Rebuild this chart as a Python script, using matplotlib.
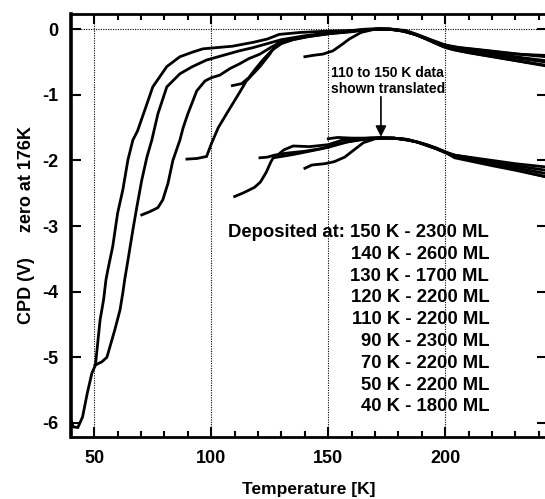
import matplotlib
matplotlib.use("Agg")
import matplotlib.pyplot as plt
from matplotlib.ticker import MultipleLocator, FixedLocator

plt.rcParams['font.family'] = ['Liberation Sans', 'DejaVu Sans']
plt.rcParams['font.weight'] = 'bold'
plt.rcParams['axes.unicode_minus'] = False

# CPD vs temperature, one curve per deposition temperature (zeroed at 176 K)
t40 = [40, 41, 43, 45, 47, 49, 50.5, 52.5, 54, 55, 55.8, 57.9, 60, 62.2, 64.4, 66.5, 68.5,
       72.5, 75, 81, 86.6, 92, 96.4, 109, 118, 124, 129, 138, 150, 160, 166, 172, 177,
       183, 188, 193, 200, 206, 214, 224, 234, 243]
v40 = [-5.95, -6.06, -6.07, -5.91, -5.55, -5.24, -5.12, -4.43, -4.12, -3.82, -3.67, -3.31,
       -2.80, -2.45, -1.99, -1.69, -1.55, -1.14, -0.88, -0.57, -0.42, -0.35, -0.30, -0.26,
       -0.20, -0.15, -0.08, -0.05, -0.03, -0.02, 0.0, 0.01, 0.0, -0.02, -0.08, -0.15, -0.24,
       -0.28, -0.31, -0.35, -0.39, -0.42]

t50 = [50.3, 53.2, 55.4, 56.7, 58.8, 61, 62.2, 63, 64.4, 66.5, 68.2, 70.3, 72.5, 74.6, 77.2,
       81, 86.6, 92, 98, 105, 112, 118, 124, 130, 140, 150, 160, 166, 172, 177, 183, 188,
       193, 200, 206, 214, 224, 234, 243]
v50 = [-5.12, -5.07, -5.00, -4.84, -4.58, -4.28, -4.02, -3.82, -3.52, -3.06, -2.71, -2.30,
       -1.95, -1.69, -1.29, -0.88, -0.68, -0.57, -0.47, -0.40, -0.33, -0.28, -0.22, -0.16,
       -0.10, -0.06, -0.03, -0.01, 0.0, 0.0, -0.03, -0.09, -0.16, -0.26, -0.30, -0.34,
       -0.39, -0.44, -0.48]

t70 = [70.3, 73.8, 77.2, 79.3, 81.5, 83.6, 86.6, 88, 90, 93.8, 97.3, 100, 103.7, 108, 112,
       116, 120.8, 126.3, 132, 140, 150, 160, 166, 172, 177, 183, 188, 193, 200, 206, 214,
       224, 234, 243]
v70 = [-2.83, -2.78, -2.72, -2.60, -2.35, -2.00, -1.69, -1.50, -1.29, -0.94, -0.79, -0.74,
       -0.70, -0.60, -0.53, -0.45, -0.38, -0.26, -0.18, -0.12, -0.07, -0.04, -0.01, 0.0,
       0.0, -0.03, -0.09, -0.17, -0.28, -0.33, -0.38, -0.44, -0.50, -0.55]

t90 = [89.6, 94, 98, 100, 103, 106.7, 112, 115, 120.8, 125, 128, 135, 142, 150, 158, 165,
       171, 176, 182, 187, 192, 198, 203, 210, 220, 230, 243]
v90 = [-1.98, -1.97, -1.94, -1.75, -1.50, -1.28, -0.97, -0.79, -0.57, -0.38, -0.22, -0.15,
       -0.10, -0.06, -0.03, -0.01, 0.0, 0.0, -0.03, -0.08, -0.15, -0.24, -0.29, -0.33,
       -0.38, -0.44, -0.50]

t110 = [109, 113, 116, 119, 122, 126, 130, 135, 142, 150, 158, 165, 171, 176, 182, 187, 192,
        198, 203, 210, 220, 230, 243]
v110 = [-0.86, -0.83, -0.74, -0.60, -0.47, -0.32, -0.22, -0.16, -0.11, -0.07, -0.04, -0.01,
        0.0, 0.0, -0.03, -0.08, -0.15, -0.25, -0.31, -0.36, -0.42, -0.48, -0.56]

t140 = [140, 143.4, 147.7, 152, 156, 159, 164, 170, 176, 182, 187, 192, 198, 203, 210, 220,
        230, 243]
v140 = [-0.42, -0.40, -0.38, -0.33, -0.23, -0.15, -0.05, 0.0, 0.0, -0.03, -0.08, -0.14,
        -0.23, -0.27, -0.30, -0.34, -0.38, -0.40]

# 110-150 K runs, shifted down
s110_t = [110, 114, 118.5, 121, 123.5, 125.5, 126.5, 130, 135, 142, 150, 158, 165, 172, 178,
          184, 188, 192, 196, 200.6, 204, 212, 220, 230, 243]
s110_v = [-2.55, -2.49, -2.41, -2.33, -2.18, -2.02, -1.96, -1.94, -1.91, -1.86, -1.80, -1.72,
          -1.68, -1.66, -1.66, -1.69, -1.72, -1.77, -1.82, -1.89, -1.96, -2.02, -2.08, -2.15,
          -2.25]
s120_t = [120.8, 124, 127, 132, 140, 147, 155, 162, 168, 172, 178, 184, 188, 192, 196, 200.6,
          204, 212, 220, 230, 243]
s120_v = [-1.96, -1.95, -1.92, -1.89, -1.86, -1.82, -1.74, -1.69, -1.67, -1.66, -1.66, -1.68,
          -1.72, -1.76, -1.81, -1.88, -1.92, -1.97, -2.02, -2.08, -2.15]
s130_t = [129, 131, 135, 142, 150, 156, 162, 168, 172, 178, 184, 188, 192, 196, 200.6, 204,
          212, 220, 230, 243]
s130_v = [-1.90, -1.84, -1.78, -1.79, -1.76, -1.69, -1.67, -1.66, -1.66, -1.66, -1.69, -1.72,
          -1.77, -1.82, -1.89, -1.93, -1.98, -2.04, -2.11, -2.20]
s140_t = [140, 143, 148.5, 152.5, 157, 161, 165, 170, 176, 182, 188, 192, 196, 200.6, 204,
          212, 220, 230, 243]
s140_v = [-2.12, -2.07, -2.05, -2.02, -1.95, -1.84, -1.73, -1.67, -1.66, -1.67, -1.72, -1.76,
          -1.81, -1.88, -1.94, -2.00, -2.06, -2.14, -2.25]
s150_t = [150, 154, 160, 166, 172, 178, 184, 188, 192, 196, 200.6, 204, 212, 220, 230, 243]
s150_v = [-1.67, -1.65, -1.66, -1.66, -1.65, -1.66, -1.69, -1.72, -1.77, -1.82, -1.88, -1.92,
          -1.96, -2.00, -2.05, -2.10]

curves = [(t40, v40), (t50, v50), (t70, v70), (t90, v90), (t110, v110), (t140, v140),
          (s110_t, s110_v), (s120_t, s120_v), (s130_t, s130_v), (s140_t, s140_v),
          (s150_t, s150_v)]

deposits = ["Deposited at: 150 K - 2300 ML", "140 K - 2600 ML", "130 K - 1700 ML",
            "120 K - 2200 ML", "110 K - 2200 ML", "90 K - 2300 ML", "70 K - 2200 ML",
            "50 K - 2200 ML", "40 K - 1800 ML"]

fig = plt.figure(figsize=(5.45, 4.99), dpi=100)
ax = fig.add_axes([0.130, 0.1242, 0.8734, 0.848])

for t, v in curves:
    ax.plot(t, v, color='black', lw=2.0, solid_joinstyle='miter')

for x in [50, 100, 150, 200]:
    ax.axvline(x, color='black', lw=0.8, ls=(0, (1, 1.2)), zorder=0)
ax.axhline(0, color='black', lw=0.8, ls=(0, (1, 1.2)), zorder=0)

ax.set_xlim(40, 243.4)
ax.set_ylim(-6.215, 0.233)

ax.xaxis.set_major_locator(FixedLocator([50, 100, 150, 200]))
ax.xaxis.set_minor_locator(MultipleLocator(10))
ax.yaxis.set_major_locator(MultipleLocator(1))
ax.tick_params(which='both', direction='in', top=True, right=True, labelsize=13, width=1.5)
ax.tick_params(which='major', length=7, pad=9)
ax.tick_params(which='minor', length=4)
for lab in ax.get_xticklabels() + ax.get_yticklabels():
    lab.set_fontweight('bold')
for side in ['left', 'bottom', 'top', 'right']:
    ax.spines[side].set_linewidth(2.0)
ax.spines['left'].set_linewidth(2.6)

ax.set_xlabel("Temperature [K]", fontsize=12.5, fontweight='bold', labelpad=11)
ax.set_ylabel("CPD (V)     zero at 176K", fontsize=13, fontweight='bold', labelpad=5)

for i, s in enumerate(deposits):
    ax.text(218.8, -3.10 - i * 0.332, s, ha='right', va='center', fontsize=13.3,
            fontweight='bold')

ax.text(151, -0.79, "110 to 150 K data\nshown translated", ha='left', va='center',
        fontsize=10, fontweight='bold', linespacing=1.2)
ax.annotate("", xy=(172.5, -1.64), xytext=(172.5, -1.03),
            arrowprops=dict(arrowstyle='-|>', color='black', lw=1.2,
                            mutation_scale=16, shrinkA=0, shrinkB=0))

fig.savefig("out.png", dpi=100)
